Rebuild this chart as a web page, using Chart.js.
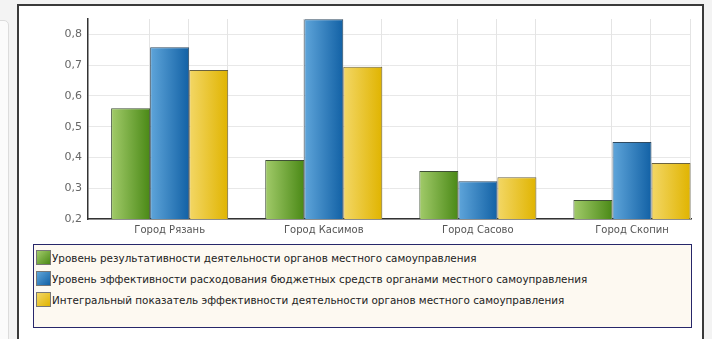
<!DOCTYPE html>
<html><head><meta charset="utf-8">
<script src="https://cdn.jsdelivr.net/npm/chart.js@4"></script>
<style>
html,body{margin:0;padding:0;background:#f3f3f3;width:712px;height:339px;overflow:hidden;position:relative;font-family:"DejaVu Sans",sans-serif}
#side{position:absolute;left:-6px;top:20px;width:13px;height:400px;background:#fbfbfb;border:1px solid #dcdcdc;border-radius:5px}
#frame{position:absolute;left:17px;top:4px;width:683px;height:400px;background:#fff;border:2px solid #3a3a3a;border-bottom:none}
#wrap{position:absolute;left:0;top:0;width:712px;height:245px}
#legend{position:absolute;left:33px;top:244px;background:#fdf9f1;border:1px solid #27276a;padding-top:2px;box-sizing:border-box;height:84px;width:659px}
.item{height:21px;display:flex;align-items:center;font-size:10.4px;color:#222;white-space:nowrap}
.sw{width:13px;height:13px;margin-left:2px;margin-right:1px;border:1px solid #777;flex:none}
</style></head>
<body>
<div id="side"></div>
<div id="frame"></div>
<div id="wrap"><canvas id="c"></canvas></div>
<div id="legend"></div>
<script>
const categories = ["Город Рязань", "Город Касимов", "Город Сасово", "Город Скопин"];
const seriesNames = [
  "Уровень результативности деятельности органов местного самоуправления",
  "Уровень эффективности расходования бюджетных средств органами местного самоуправления",
  "Интегральный показатель эффективности деятельности органов местного самоуправления"
];
const resultLevel = [0.56, 0.392, 0.356, 0.262];
const budgetLevel = [0.758, 0.849, 0.323, 0.45];
const integralLevel = [0.684, 0.695, 0.336, 0.382];
const yTicks = [0.2, 0.3, 0.4, 0.5, 0.6, 0.7, 0.8];

const gradColors = [
  ["#a2cb6a", "#4a8916"],
  ["#5fa5da", "#1261a5"],
  ["#f3d766", "#e0b400"]
];
const borderColors = ["#3f4f36", "#2f4a60", "#6a6240"];

function grad(ctx) {
  const chart = ctx.chart;
  const cols = gradColors[ctx.datasetIndex];
  const meta = chart.getDatasetMeta(ctx.datasetIndex);
  const el = meta && meta.data ? meta.data[ctx.dataIndex] : null;
  if (!el || !isFinite(el.x) || !isFinite(el.width)) return cols[1];
  const g = chart.ctx.createLinearGradient(el.x - el.width / 2, 0, el.x + el.width / 2, 0);
  g.addColorStop(0, cols[0]);
  g.addColorStop(1, cols[1]);
  return g;
}

const allSeries = [resultLevel, budgetLevel, integralLevel];
const datasets = allSeries.map((vals, d) => ({
  label: seriesNames[d],
  data: vals.map((v, i) => ({x: i, y: v})),
  backgroundColor: grad,
  borderColor: borderColors[d],
  borderWidth: 1,
  categoryPercentage: 0.76,
  barPercentage: 1
}));

const vGrid = {
  id: 'vGrid',
  beforeDatasetsDraw(chart) {
    const {ctx, chartArea} = chart;
    ctx.save();
    ctx.strokeStyle = '#e4e4e4';
    ctx.lineWidth = 1;
    chart.data.datasets.forEach((ds, d) => {
      chart.getDatasetMeta(d).data.forEach(el => {
        const x = Math.round(el.x + el.width / 2) - 0.5;
        ctx.beginPath();
        ctx.moveTo(x, chartArea.top);
        ctx.lineTo(x, chartArea.bottom);
        ctx.stroke();
      });
    });
    ctx.restore();
  }
};

const chart = new Chart(document.getElementById('c'), {
  type: 'bar',
  data: {datasets},
  options: {
    responsive: true,
    maintainAspectRatio: false,
    animation: false,
    layout: {padding: {left: 0, right: 21, top: 19, bottom: 0}},
    plugins: {legend: {display: false}, tooltip: {enabled: false}},
    scales: {
      x: {
        type: 'linear',
        offset: false,
        min: -0.53,
        max: 3.383,
        afterBuildTicks: s => { s.ticks = categories.map((c, i) => ({value: i})); },
        afterFit: s => { s.height = 26; },
        grid: {display: false, drawTicks: false, offset: false},
        border: {display: true, color: '#333', width: 1.5},
        ticks: {
          callback: v => categories[v],
          autoSkip: false, maxRotation: 0, padding: 5,
          color: '#555', font: {family: 'DejaVu Sans', size: 10}
        }
      },
      y: {
        min: 0.2,
        max: 0.85,
        afterBuildTicks: s => { s.ticks = yTicks.map(v => ({value: v})); },
        afterFit: s => { s.width = 88; },
        grid: {color: '#e8e8e8', drawTicks: false},
        border: {display: true, color: '#333', width: 1.5},
        ticks: {
          callback: v => v.toFixed(1).replace('.', ','),
          padding: 6,
          color: '#666', font: {family: 'DejaVu Sans', size: 11}
        }
      }
    }
  },
  plugins: [vGrid]
});
chart.update('none');

const leg = document.getElementById('legend');
seriesNames.forEach((name, d) => {
  const it = document.createElement('div');
  it.className = 'item';
  const sw = document.createElement('span');
  sw.className = 'sw';
  sw.style.background = 'linear-gradient(135deg,' + gradColors[d][0] + ',' + gradColors[d][1] + ')';
  const t = document.createElement('span');
  t.textContent = name;
  it.appendChild(sw);
  it.appendChild(t);
  leg.appendChild(it);
});
</script>
</body></html>
